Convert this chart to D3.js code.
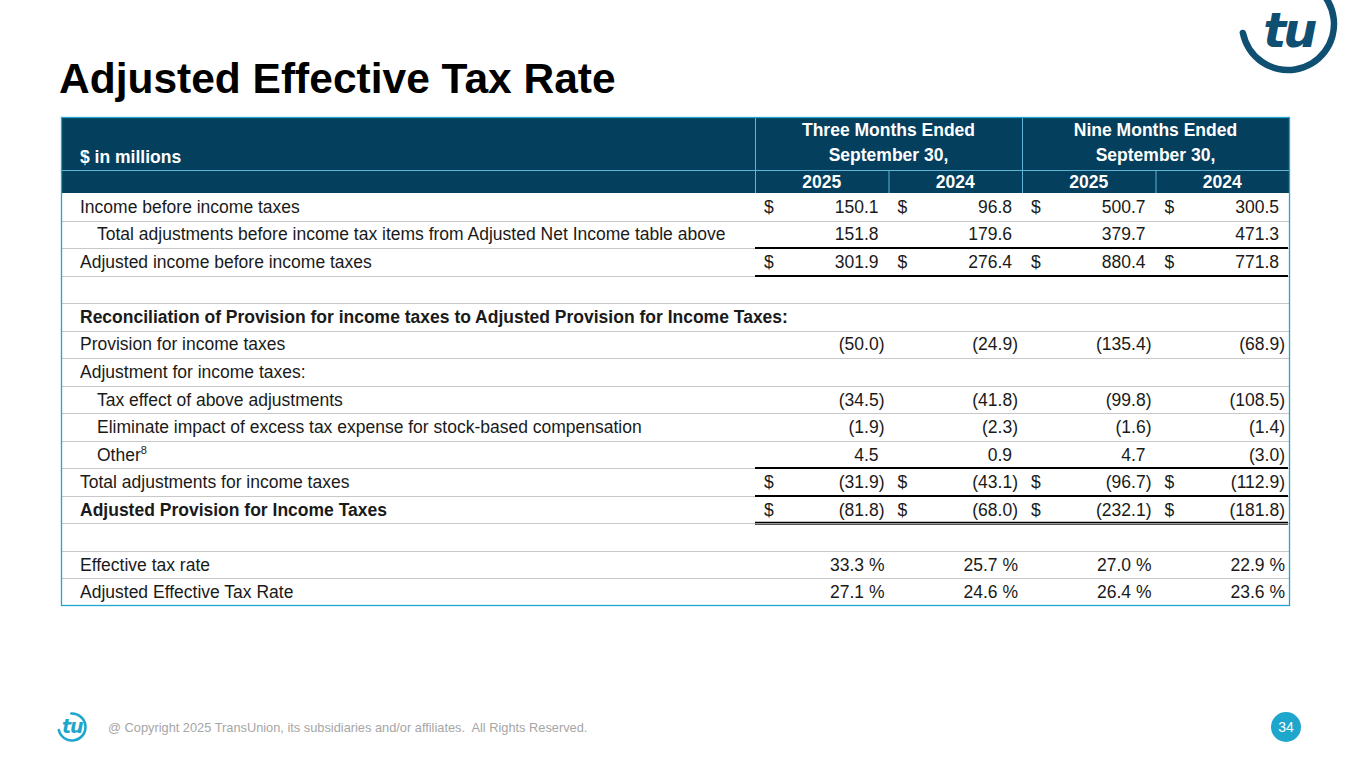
<!DOCTYPE html>
<html>
<head>
<meta charset="utf-8">
<script src="https://cdn.jsdelivr.net/npm/d3@7"></script>
<style>
  body { margin: 0; background: #fff; }
  svg { display: block; font-family: "Liberation Sans", Arial, sans-serif; }
</style>
</head>
<body>
<div id="chart"></div>
<script>
  // table content
  var title = "Adjusted Effective Tax Rate",
      unitLabel = "$ in millions",
      periods = ["Three Months Ended", "Nine Months Ended"],
      periodDate = "September 30,",
      years = ["2025", "2024", "2025", "2024"];

  var rowLabels = [
    "Income before income taxes",
    "Total adjustments before income tax items from Adjusted Net Income table above",
    "Adjusted income before income taxes",
    "",
    "Reconciliation of Provision for income taxes to Adjusted Provision for Income Taxes:",
    "Provision for income taxes",
    "Adjustment for income taxes:",
    "Tax effect of above adjustments",
    "Eliminate impact of excess tax expense for stock-based compensation",
    "Other",
    "Total adjustments for income taxes",
    "Adjusted Provision for Income Taxes",
    "",
    "Effective tax rate",
    "Adjusted Effective Tax Rate"
  ];
  var indentRows = [1, 7, 8, 9],
      boldRows = [4, 11],
      footnoteRows = { 9: "8" },
      dollarRows = [0, 2, 10, 11],
      percentRows = [13, 14];

  var q3_2025 = [150.1, 151.8, 301.9, null, null, -50.0, null, -34.5, -1.9, 4.5, -31.9, -81.8, null, 33.3, 27.1],
      q3_2024 = [96.8, 179.6, 276.4, null, null, -24.9, null, -41.8, -2.3, 0.9, -43.1, -68.0, null, 25.7, 24.6],
      ytd_2025 = [500.7, 379.7, 880.4, null, null, -135.4, null, -99.8, -1.6, 4.7, -96.7, -232.1, null, 27.0, 26.4],
      ytd_2024 = [300.5, 471.3, 771.8, null, null, -68.9, null, -108.5, -1.4, -3.0, -112.9, -181.8, null, 22.9, 23.6];
  var columns = [q3_2025, q3_2024, ytd_2025, ytd_2024];

  // underline rules: [row index, edge] drawn across the value columns
  var singleRules = [[2, "top"], [2, "bottom"], [10, "top"], [11, "top"]],
      doubleRules = [[11, "bottom"]];

  var W = 1365, H = 768,
      navy = "#053f5e", cyan = "#1fa6cc", logoNavy = "#0f4f72",
      textCol = "#1a1a1a";

  var tbl = { left: 61, right: 1290, top: 117, head1: 170, head2: 193, bottom: 606 },
      labelCol = 755;

  const svg = d3.select("#chart").append("svg")
      .attr("width", W)
      .attr("height", H);

  // title
  svg.append("text")
      .attr("x", 59).attr("y", 93)
      .attr("font-size", 42.5).attr("font-weight", "bold")
      .attr("fill", "#000")
      .text(title);

  // scales
  var rowIdx = d3.range(rowLabels.length);
  var y = d3.scaleBand().domain(rowIdx).range([tbl.head2, tbl.bottom]);
  var colX = d3.scaleLinear().domain([0, 4]).range([labelCol, tbl.right - 1]);

  // header background
  svg.append("rect")
      .attr("x", tbl.left).attr("y", tbl.top)
      .attr("width", tbl.right - tbl.left).attr("height", tbl.head2 - tbl.top)
      .attr("fill", navy);

  var hdr = svg.append("g").attr("stroke", "#5fb4d6").attr("stroke-width", 1);
  hdr.append("line")
      .attr("x1", tbl.left).attr("x2", tbl.right)
      .attr("y1", tbl.head1 + 0.5).attr("y2", tbl.head1 + 0.5);
  hdr.selectAll(".v1").data([0, 2]).enter().append("line")
      .attr("x1", d => colX(d) + 0.5).attr("x2", d => colX(d) + 0.5)
      .attr("y1", tbl.top).attr("y2", tbl.head1);
  hdr.selectAll(".v2").data([0, 1, 2, 3]).enter().append("line")
      .attr("x1", d => colX(d) + 0.5).attr("x2", d => colX(d) + 0.5)
      .attr("y1", tbl.head1).attr("y2", tbl.head2);

  svg.append("text")
      .attr("x", 80).attr("y", 163)
      .attr("font-size", 17.5).attr("font-weight", "bold").attr("fill", "#fff")
      .text(unitLabel);

  var pg = svg.selectAll(".period").data(periods).enter().append("g");
  pg.append("text")
      .attr("x", (d, i) => (colX(i * 2) + colX(i * 2 + 2)) / 2).attr("y", 136)
      .attr("text-anchor", "middle")
      .attr("font-size", 17.5).attr("font-weight", "bold").attr("fill", "#fff")
      .text(d => d);
  pg.append("text")
      .attr("x", (d, i) => (colX(i * 2) + colX(i * 2 + 2)) / 2).attr("y", 161)
      .attr("text-anchor", "middle")
      .attr("font-size", 17.5).attr("font-weight", "bold").attr("fill", "#fff")
      .text(periodDate);

  svg.selectAll(".year").data(years).enter().append("text")
      .attr("x", (d, i) => (colX(i) + colX(i + 1)) / 2).attr("y", 188)
      .attr("text-anchor", "middle")
      .attr("font-size", 17.5).attr("font-weight", "bold").attr("fill", "#fff")
      .text(d => d);

  // row separators
  svg.selectAll(".sep").data(rowIdx.slice(1)).enter().append("line")
      .attr("x1", tbl.left).attr("x2", tbl.right)
      .attr("y1", d => Math.round(y(d)) + 0.5).attr("y2", d => Math.round(y(d)) + 0.5)
      .attr("stroke", "#c8c8c8").attr("stroke-width", 1.2);

  // black underline rules
  function ruleY(r) { return Math.round(r[1] == "top" ? y(r[0]) : y(r[0]) + y.bandwidth()); }
  svg.selectAll(".rule").data(singleRules).enter().append("line")
      .attr("x1", colX(0)).attr("x2", colX(4) - 1)
      .attr("y1", d => ruleY(d)).attr("y2", d => ruleY(d))
      .attr("stroke", "#000").attr("stroke-width", 2);
  var dbl = svg.selectAll(".drule").data(doubleRules).enter().append("g");
  dbl.append("line")
      .attr("x1", colX(0)).attr("x2", colX(4) - 1)
      .attr("y1", d => ruleY(d) - 0.5).attr("y2", d => ruleY(d) - 0.5)
      .attr("stroke", "#000").attr("stroke-width", 1.3);
  dbl.append("line")
      .attr("x1", colX(0)).attr("x2", colX(4) - 1)
      .attr("y1", d => ruleY(d) + 1.5).attr("y2", d => ruleY(d) + 1.5)
      .attr("stroke", "#555").attr("stroke-width", 1);

  // row labels
  var lab = svg.selectAll(".rowLabel").data(rowIdx).enter().append("text")
      .attr("x", d => indentRows.indexOf(d) >= 0 ? 97 : 80)
      .attr("y", d => y(d) + y.bandwidth() / 2 + 6)
      .attr("font-size", 17.5)
      .attr("font-weight", d => boldRows.indexOf(d) >= 0 ? "bold" : "normal")
      .attr("fill", textCol)
      .text(d => rowLabels[d]);
  lab.filter(d => footnoteRows[d]).append("tspan")
      .attr("font-size", 11).attr("dy", -7)
      .text(d => footnoteRows[d]);

  // values
  function fmt(v, r) {
    if (percentRows.indexOf(r) >= 0) return v.toFixed(1) + " %";
    return v < 0 ? "(" + Math.abs(v).toFixed(1) + ")" : v.toFixed(1);
  }
  columns.forEach(function (col, c) {
    var right = colX(c + 1) - 4;
    var cells = rowIdx.filter(r => col[r] != null);
    svg.selectAll(".val" + c).data(cells).enter().append("text")
        .attr("x", r => (col[r] < 0 || percentRows.indexOf(r) >= 0) ? right : right - 6)
        .attr("y", r => y(r) + y.bandwidth() / 2 + 6)
        .attr("text-anchor", "end")
        .attr("font-size", 17.5).attr("fill", textCol)
        .text(r => fmt(col[r], r));
    svg.selectAll(".dol" + c).data(dollarRows).enter().append("text")
        .attr("x", colX(c) + 9)
        .attr("y", r => y(r) + y.bandwidth() / 2 + 6)
        .attr("font-size", 17.5).attr("fill", textCol)
        .text("$");
  });

  // outer border
  svg.append("rect")
      .attr("x", tbl.left + 0.5).attr("y", tbl.top + 0.5)
      .attr("width", tbl.right - tbl.left - 1).attr("height", tbl.bottom - tbl.top - 1)
      .attr("fill", "none").attr("stroke", cyan).attr("stroke-width", 1.3);

  // logo: open ring + script letters
  function drawLogo(g, cx, cy, r, sw, color, fs, dy) {
    var arc = d3.arc().innerRadius(r - sw / 2).outerRadius(r + sw / 2)
        .startAngle(-0.15).endAngle(Math.PI * 1.46).cornerRadius(sw / 2);
    g.append("path").attr("transform", "translate(" + cx + "," + cy + ")")
        .attr("d", arc()).attr("fill", color);
    g.append("text")
        .attr("x", cx + r * 0.02).attr("y", cy + dy)
        .attr("text-anchor", "middle")
        .attr("font-family", "DejaVu Sans").attr("font-style", "italic").attr("font-weight", "bold")
        .attr("font-size", fs).attr("fill", color)
        .attr("letter-spacing", -fs * 0.06)
        .text("tu");
  }
  drawLogo(svg.append("g"), 1288, 24, 46, 6.5, logoNavy, 48, 23);
  drawLogo(svg.append("g"), 72, 727, 13.5, 2.6, cyan, 19, 5.5);

  // footer
  svg.append("text")
      .attr("x", 108).attr("y", 732)
      .attr("font-size", 12.8).attr("fill", "#a6a6a6")
      .text("@ Copyright 2025 TransUnion, its subsidiaries and/or affiliates.  All Rights Reserved.")
      .style("white-space", "pre");

  svg.append("circle").attr("cx", 1286).attr("cy", 727).attr("r", 15).attr("fill", cyan);
  svg.append("text")
      .attr("x", 1286).attr("y", 732)
      .attr("text-anchor", "middle")
      .attr("font-size", 14).attr("fill", "#fff")
      .text("34");
</script>
</body>
</html>
